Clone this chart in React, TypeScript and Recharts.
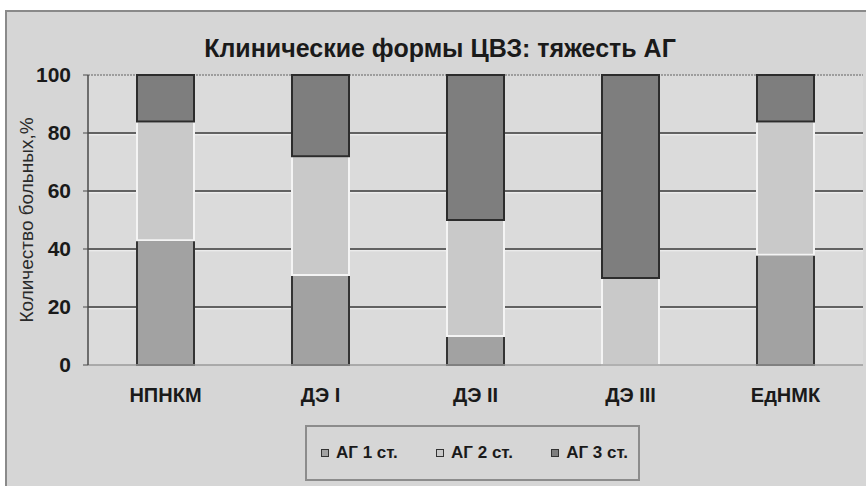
import React from "react";
import { BarChart, Bar, XAxis, YAxis, CartesianGrid, Legend } from "recharts";

// Clinical forms of cerebrovascular disease, share of patients by hypertension grade (%)
const categories = ["НПНКМ", "ДЭ I", "ДЭ II", "ДЭ III", "ЕдНМК"];
const grade1 = [43, 31, 10, 0, 38];
const grade2 = [41, 41, 40, 30, 46];
const grade3 = [16, 28, 50, 70, 16];
const yTicks = [0, 20, 40, 60, 80, 100];

const SERIES = [
  { key: "g1", name: "АГ 1 ст.", fill: "#a2a2a2", stroke: "#343434" },
  { key: "g2", name: "АГ 2 ст.", fill: "#c9c9c9", stroke: "#f4f4f4" },
  { key: "g3", name: "АГ 3 ст.", fill: "#7e7e7e", stroke: "#2c2c2c" },
];

const data = categories.map((name, i) => ({
  name,
  g1: grade1[i],
  g2: grade2[i],
  g3: grade3[i],
}));

const FONT = "Arial, 'Liberation Sans', sans-serif";

// embossed grid line: dark stroke with a light highlight underneath;
// the top border is a light dotted line, the bottom one is left to the axis
const GridLine = (props: any) => {
  const { x1, y1, x2, y2, y, height } = props;
  if (Math.abs(y1 - (y + height)) < 1) return <g />;
  if (Math.abs(y1 - y) < 1) {
    return (
      <line x1={x1} y1={y1} x2={x2} y2={y2} stroke="#8a8a8a" strokeWidth={1.5} strokeDasharray="2 1" />
    );
  }
  return (
    <g>
      <line x1={x1} y1={y1} x2={x2} y2={y2} stroke="#3a3a3a" strokeWidth={1.5} />
      <line x1={x1} y1={y1 + 1.8} x2={x2} y2={y2 + 1.8} stroke="#f2f2f2" strokeWidth={1} />
    </g>
  );
};

const LegendBox = () => (
  <div
    style={{
      width: 335,
      height: 56,
      border: "2px solid #8c8c8c",
      boxSizing: "border-box",
      display: "flex",
      alignItems: "center",
      justifyContent: "space-between",
      padding: "0 10px 0 14px",
      fontFamily: FONT,
      fontWeight: "bold",
      fontSize: 17,
      color: "#1a1a1a",
    }}
  >
    {SERIES.map((s) => (
      <span key={s.key} style={{ display: "flex", alignItems: "center" }}>
        <span
          style={{
            display: "inline-block",
            width: 6,
            height: 6,
            background: s.fill,
            border: "1.5px solid #333",
            marginRight: 7,
          }}
        />
        {s.name}
      </span>
    ))}
  </div>
);

export default function App() {
  return (
    <div
      style={{
        position: "absolute",
        left: 0,
        top: 0,
        width: 866,
        height: 486,
        background: "#ffffff",
        overflow: "hidden",
      }}
    >
      <div
        style={{
          position: "absolute",
          left: 5,
          top: 10,
          width: 880,
          height: 490,
          background: "#d6d6d6",
          border: "2px solid #8a8a8a",
        }}
      />
      <div
        style={{
          position: "absolute",
          left: 0,
          top: 34,
          width: 880,
          textAlign: "center",
          fontFamily: FONT,
          fontWeight: "bold",
          fontSize: 25,
          color: "#1a1a1a",
        }}
      >
        Клинические формы ЦВЗ: тяжесть АГ
      </div>
      <div style={{ position: "absolute", left: 0, top: 0 }}>
        <BarChart
          width={866}
          height={486}
          data={data}
          margin={{ top: 75, right: 3, bottom: 91, left: 0 }}
          barSize={57}
        >
          <CartesianGrid vertical={false} horizontal={GridLine} fill="#dbdbdb" />
          <XAxis
            dataKey="name"
            height={30}
            axisLine={{ stroke: "#9a9a9a", strokeWidth: 1.5 }}
            tickLine={false}
            tick={{ fill: "#1a1a1a", fontFamily: FONT, fontWeight: "bold", fontSize: 20 }}
            tickMargin={17}
          />
          <YAxis
            width={88}
            domain={[0, 100]}
            ticks={yTicks}
            axisLine={{ stroke: "#4a4a4a", strokeWidth: 1.5 }}
            tickLine={{ stroke: "#4a4a4a" }}
            tickSize={5}
            tickMargin={12}
            tick={{ fill: "#1a1a1a", fontFamily: FONT, fontWeight: "bold", fontSize: 21 }}
            label={{
              value: "Количество больных,%",
              angle: -90,
              position: "insideLeft",
              offset: 26,
              style: {
                textAnchor: "middle",
                fill: "#2a2a2a",
                fontFamily: FONT,
                fontSize: 19,
              },
            }}
          />
          {SERIES.map((s) => (
            <Bar
              key={s.key}
              dataKey={s.key}
              name={s.name}
              stackId="a"
              fill={s.fill}
              stroke={s.stroke}
              strokeWidth={2}
              isAnimationActive={false}
            />
          ))}
          <Legend
            layout="horizontal"
            verticalAlign="middle"
            align="center"
            content={() => <LegendBox />}
            wrapperStyle={{ position: "absolute", left: 305, top: 425, width: 335, height: 56 }}
          />
        </BarChart>
      </div>
    </div>
  );
}
